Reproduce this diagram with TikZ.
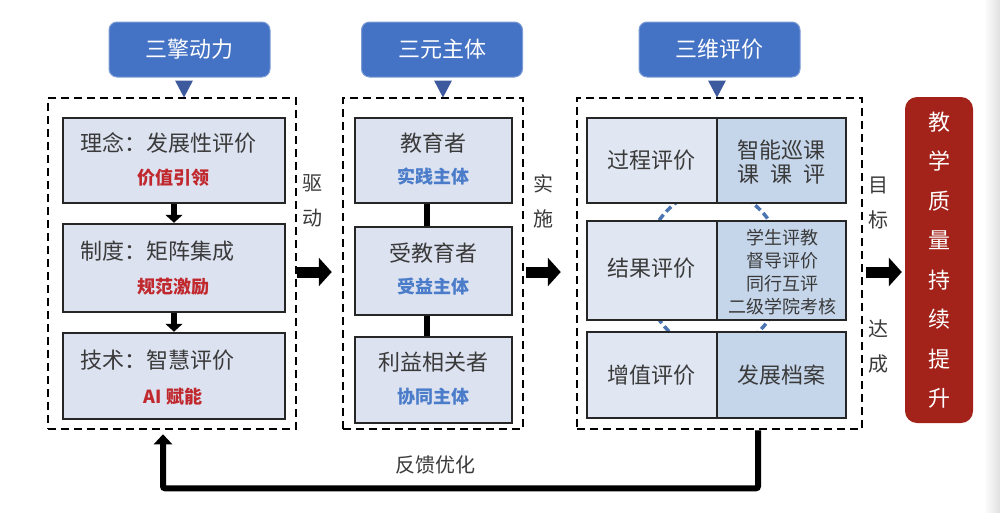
\documentclass[tikz,border=0pt]{standalone}
\usepackage{fontspec}
\setmainfont{Noto Sans CJK SC}
\usetikzlibrary{arrows.meta,calc}
\definecolor{hdrblue}{HTML}{4472C4}
\definecolor{tricol}{HTML}{3D5A9E}
\definecolor{boxfill}{HTML}{DCE2F0}
\definecolor{cellL}{HTML}{E0E7F3}
\definecolor{cellR}{HTML}{C5D5EA}
\definecolor{boxline}{HTML}{262626}
\definecolor{maintxt}{HTML}{3A3A3A}
\definecolor{subred}{HTML}{C0282D}
\definecolor{subblue}{HTML}{4A7CC9}
\definecolor{goalred}{HTML}{A3221A}
\definecolor{ringblue}{HTML}{4A74B2}
\tikzset{
  hdr/.style={fill=hdrblue, draw=hdrblue!70!white, line width=1pt, rounded corners=8pt,
    minimum width=161pt, minimum height=55pt, inner sep=0pt, text=white,
    font=\fontsize{22}{26}\selectfont},
  dbox/.style={draw=black, line width=2.5pt, dash pattern=on 8pt off 5pt, inner sep=0pt},
  box/.style={draw=boxline, line width=2.5pt, fill=boxfill, inner sep=0pt},
  cellleft/.style={draw=boxline, line width=2.5pt, fill=cellL, inner sep=0pt},
  cellright/.style={draw=boxline, line width=2.5pt, fill=cellR, inner sep=0pt},
  mtxt/.style={text=maintxt, inner sep=0pt, font=\fontsize{22}{26}\selectfont},
  rtxt/.style={text=subred, inner sep=0pt, font=\fontsize{18}{22}\selectfont\bfseries},
  btxt/.style={text=subblue, inner sep=0pt, font=\fontsize{18}{22}\selectfont\bfseries},
  side/.style={text=maintxt, inner sep=0pt, align=center, font=\fontsize{20}{35}\selectfont},
  bigarrow/.style={line width=11pt, -{Triangle[length=13pt,width=28pt]}},
  smallarrow/.style={line width=6pt, -{Triangle[length=8pt,width=17pt]}},
  fb/.style={line width=6pt, rounded corners=2pt, -{Triangle[length=10pt,width=18pt]}},
}
\begin{document}
\begin{tikzpicture}[x=1pt,y=-1pt]
\useasboundingbox (0,0) rectangle (1000,512);
\shade[left color=white, right color=black!12] (984,0) rectangle (1000,512);

% headers
\node[hdr] (h1) at (189.5,49.5) {三擎动力};
\node[hdr] (h2) at (442,49.5) {三元主体};
\node[hdr] (h3) at (719.5,49.5) {三维评价};
\fill[tricol] ($(h1.south)+(-14.5,3)$) -- ++(18,0) -- ++(-9,17) -- cycle;
\fill[tricol] ($(h2.south)+(-8,3)$) -- ++(18,0) -- ++(-9,17) -- cycle;
\fill[tricol] ($(h3.south)+(-11.5,3)$) -- ++(18,0) -- ++(-9,17) -- cycle;

% dashed frames
\node[dbox, minimum width=248pt, minimum height=331pt] (d1) at (172,263.5) {};
\node[dbox, minimum width=180pt, minimum height=331pt] (d2) at (433,263.5) {};
\node[dbox, minimum width=285pt, minimum height=331pt] (d3) at (719.5,263.5) {};

% column 1
\node[box, minimum width=222pt, minimum height=85pt] (a1) at (174,160.5) {};
\node[box, minimum width=222pt, minimum height=88pt] (a2) at (174,268) {};
\node[box, minimum width=222pt, minimum height=86pt] (a3) at (174,376) {};
\node[mtxt, anchor=west] (a1t) at (80,143) {理念：发展性评价};
\node[rtxt] (a1s) at (173,178) {价值引领};
\node[mtxt, anchor=west] (a2t) at (80,251) {制度：矩阵集成};
\node[rtxt] (a2s) at (173,287) {规范激励};
\node[mtxt, anchor=west] (a3t) at (80,360) {技术：智慧评价};
\node[rtxt] (a3s) at (173,397) {AI 赋能};
\draw[smallarrow] (a1.south) -- (a2.north);
\draw[smallarrow] (a2.south) -- (a3.north);

% column 2
\node[box, minimum width=157pt, minimum height=85pt] (b1) at (433.5,160.5) {};
\node[box, minimum width=157pt, minimum height=88pt] (b2) at (433.5,271) {};
\node[box, minimum width=157pt, minimum height=86pt] (b3) at (433.5,380) {};
\draw[line width=6pt] ($(b1.south)+(-7,0)$) -- ($(b2.north)+(-7,0)$);
\draw[line width=6pt] ($(b2.south)+(-7,0)$) -- ($(b3.north)+(-7,0)$);
\node[mtxt] (b1t) at (433.5,143) {教育者};
\node[btxt] (b1s) at (433.5,177) {实践主体};
\node[mtxt] (b2t) at (433.5,253) {受教育者};
\node[btxt] (b2s) at (433.5,287) {受益主体};
\node[mtxt] (b3t) at (433.5,362) {利益相关者};
\node[btxt] (b3s) at (433.5,397) {协同主体};

% column 3
\coordinate (ringc) at (714,270);
\draw[ringblue, line width=3.5pt, dash pattern=on 7pt off 4pt] (ringc) ellipse [x radius=70pt, y radius=80pt];
\node[cellleft, minimum width=130pt, minimum height=85pt] (c1) at (652,160.5) {};
\node[cellright, minimum width=129pt, minimum height=85pt] (e1) at (781.5,160.5) {};
\node[cellleft, minimum width=130pt, minimum height=99pt] (c2) at (652,270.5) {};
\node[cellright, minimum width=129pt, minimum height=99pt] (e2) at (781.5,270.5) {};
\node[cellleft, minimum width=130pt, minimum height=86pt] (c3) at (652,375) {};
\node[cellright, minimum width=129pt, minimum height=86pt] (e3) at (781.5,375) {};
\node[mtxt] (c1t) at (651,160) {过程评价};
\node[mtxt] (c2t) at (651,268) {结果评价};
\node[mtxt] (c3t) at (651,375) {增值评价};
\node[mtxt, align=center, font=\fontsize{22}{24.5}\selectfont] (e1t) at (781.5,162) {智能巡课\\课\hspace{11pt}课\hspace{11pt}评};
\node[mtxt, align=center, font=\fontsize{18}{23}\selectfont] (e2t) at (782,272.5) {学生评教\\督导评价\\同行互评\\二级学院考核};
\node[mtxt] (e3t) at (781.5,375) {发展档案};

% goal box
\node[fill=goalred, rounded corners=12pt, minimum width=68pt, minimum height=326pt, inner sep=0pt,
  text=white, align=center, font=\fontsize{22}{39.5}\selectfont] (g) at (939,260) {教\\学\\质\\量\\持\\续\\提\\升};

% side labels
\node[side] (s1) at (312,200.5) {驱\\动};
\node[side] (s2) at (543,201.5) {实\\施};
\node[side] (s3) at (878,203.5) {目\\标};
\node[side] (s4) at (878,346.5) {达\\成};

% big arrows
\draw[bigarrow] ($(d1.east)+(0,8.5)$) -- ($(d2.west)+(-10,8.5)$);
\draw[bigarrow] ($(d2.east)+(2,8.5)$) -- ($(d3.west)+(-15,8.5)$);
\draw[bigarrow] ($(d3.east)+(3,8.5)$) -- ($(g.west |- d3.east)+(-3,8.5)$);

% feedback
\draw[fb] ($(d3.south)+(38.5,0)$) -- ++(0,58) -| ($(d1.south)+(-9,4)$);
\node[text=maintxt, inner sep=0pt, font=\fontsize{20}{24}\selectfont] (fbt) at (435,465) {反馈优化};
\end{tikzpicture}
\end{document}
